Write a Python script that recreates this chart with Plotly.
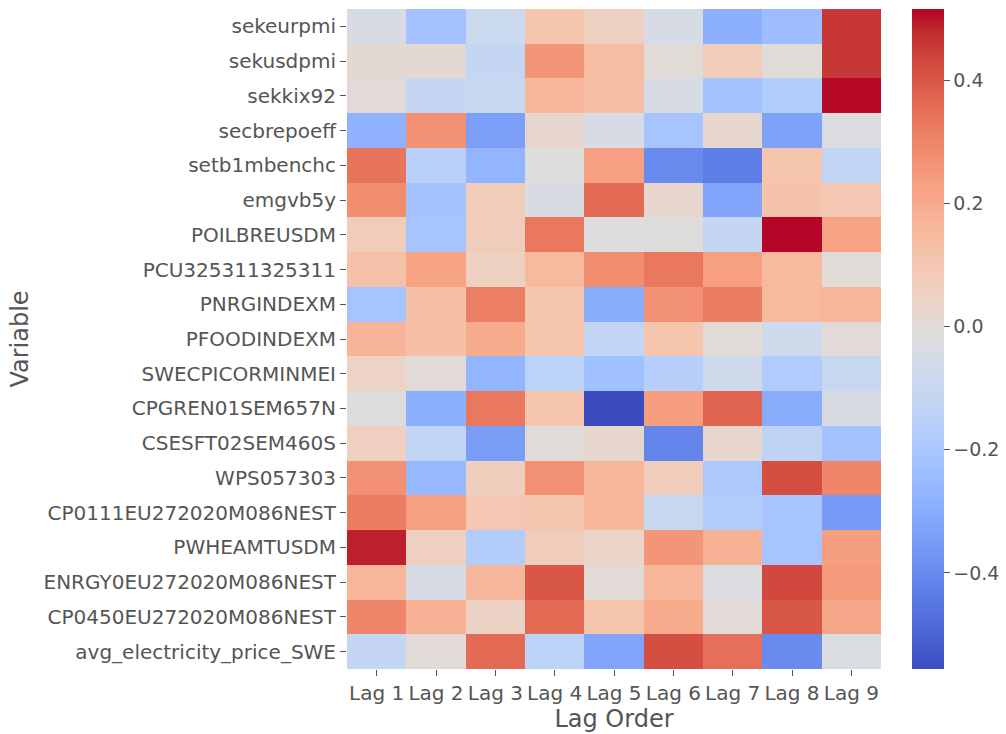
import plotly.graph_objects as go

variables = [
    "sekeurpmi", "sekusdpmi", "sekkix92", "secbrepoeff", "setb1mbenchc",
    "emgvb5y", "POILBREUSDM", "PCU325311325311", "PNRGINDEXM", "PFOODINDEXM",
    "SWECPICORMINMEI", "CPGREN01SEM657N", "CSESFT02SEM460S", "WPS057303",
    "CP0111EU272020M086NEST", "PWHEAMTUSDM", "ENRGY0EU272020M086NEST",
    "CP0450EU272020M086NEST", "avg_electricity_price_SWE",
]
lags = ["Lag 1", "Lag 2", "Lag 3", "Lag 4", "Lag 5", "Lag 6", "Lag 7", "Lag 8", "Lag 9"]

sekeurpmi = [-0.05, -0.22, -0.09, 0.11, 0.06, -0.05, -0.29, -0.24, 0.46]
sekusdpmi = [0.01, 0.01, -0.11, 0.26, 0.14, -0.005, 0.08, -0.005, 0.46]
sekkix92 = [0.0, -0.11, -0.10, 0.16, 0.13, -0.05, -0.22, -0.17, 0.51]
secbrepoeff = [-0.28, 0.27, -0.34, 0.025, -0.05, -0.21, 0.025, -0.33, -0.03]
setb1mbenchc = [0.34, -0.15, -0.27, -0.02, 0.23, -0.40, -0.43, 0.11, -0.12]
emgvb5y = [0.28, -0.22, 0.08, -0.04, 0.36, 0.025, -0.32, 0.12, 0.10]
poilbreusdm = [0.075, -0.21, 0.075, 0.33, -0.02, -0.015, -0.11, 0.515, 0.22]
pcu325311325311 = [0.125, 0.22, 0.06, 0.15, 0.28, 0.33, 0.23, 0.15, -0.005]
pnrgindexm = [-0.21, 0.13, 0.315, 0.11, -0.30, 0.27, 0.32, 0.15, 0.165]
pfoodindexm = [0.17, 0.13, 0.20, 0.115, -0.12, 0.11, -0.005, -0.08, 0.0]
swecpicorminmei = [0.045, 0.0, -0.27, -0.14, -0.23, -0.16, -0.08, -0.18, -0.10]
cpgren01sem657n = [-0.02, -0.29, 0.33, 0.11, -0.556, 0.24, 0.37, -0.30, -0.04]
csesft02sem460s = [0.065, -0.12, -0.345, -0.005, 0.025, -0.415, 0.025, -0.13, -0.22]
wps057303 = [0.27, -0.26, 0.07, 0.27, 0.16, 0.075, -0.19, 0.42, 0.30]
cp0111 = [0.32, 0.23, 0.10, 0.105, 0.16, -0.10, -0.17, -0.21, -0.355]
pwheamtusdm = [0.49, 0.065, -0.17, 0.075, 0.04, 0.26, 0.18, -0.21, 0.235]
enrgy0 = [0.165, -0.05, 0.16, 0.40, 0.0, 0.165, -0.03, 0.43, 0.25]
cp0450 = [0.30, 0.18, 0.05, 0.36, 0.115, 0.20, 0.0, 0.40, 0.21]
avg_elec = [-0.11, 0.0, 0.36, -0.14, -0.32, 0.42, 0.35, -0.40, -0.035]

z = [sekeurpmi, sekusdpmi, sekkix92, secbrepoeff, setb1mbenchc, emgvb5y,
     poilbreusdm, pcu325311325311, pnrgindexm, pfoodindexm, swecpicorminmei,
     cpgren01sem657n, csesft02sem460s, wps057303, cp0111, pwheamtusdm,
     enrgy0, cp0450, avg_elec]

cw = [
    (59, 76, 192), (68, 90, 204), (77, 104, 215), (87, 117, 225), (98, 130, 234),
    (108, 142, 241), (119, 154, 247), (130, 165, 251), (141, 176, 254),
    (152, 185, 255), (163, 194, 255), (174, 201, 253), (184, 208, 249),
    (194, 213, 244), (204, 217, 238), (213, 219, 230), (221, 221, 221),
    (229, 216, 209), (236, 211, 197), (241, 204, 185), (245, 196, 173),
    (247, 187, 160), (247, 177, 148), (247, 166, 135), (244, 154, 123),
    (241, 141, 111), (236, 127, 99), (229, 112, 88), (222, 96, 77),
    (213, 80, 66), (203, 62, 56), (192, 40, 47), (180, 4, 38),
]
n = len(cw) - 1
colorscale = [[i / n, "rgb(%d,%d,%d)" % c] for i, c in enumerate(cw)]

txt = "#555555"
fig = go.Figure(go.Heatmap(
    z=z, x=lags, y=variables,
    colorscale=colorscale, zmin=-0.556, zmax=0.516,
    xgap=0, ygap=0,
    colorbar=dict(
        xref="container", x=912 / 1006, xanchor="left", xpad=0, thickness=32,
        y=0.5, yanchor="middle", len=1, lenmode="fraction", ypad=0,
        outlinewidth=0,
        tickvals=[-0.4, -0.2, 0.0, 0.2, 0.4],
        ticktext=["\u22120.4", "\u22120.2", "0.0", "0.2", "0.4"],
        ticks="outside", ticklen=6, tickcolor=txt, tickwidth=1,
        tickfont=dict(family="DejaVu Sans", size=19, color=txt),
    ),
))

fig.update_layout(
    width=1006, height=734,
    margin=dict(l=347, r=125, t=9, b=65),
    paper_bgcolor="white", plot_bgcolor="white",
    font=dict(family="DejaVu Sans", size=20, color=txt),
    xaxis=dict(
        title=dict(text="Lag Order", font=dict(size=24, color=txt), standoff=2),
        ticks="outside", ticklen=6, tickcolor=txt, showgrid=False, zeroline=False,
        tickfont=dict(size=20, color=txt), automargin=False,
    ),
    yaxis=dict(
        title=dict(text="Variable", font=dict(size=24, color=txt), standoff=8),
        autorange="reversed",
        ticks="outside", ticklen=6, tickcolor=txt, showgrid=False, zeroline=False,
        tickfont=dict(size=20, color=txt), automargin=False,
    ),
)

fig.write_html("out.html")
